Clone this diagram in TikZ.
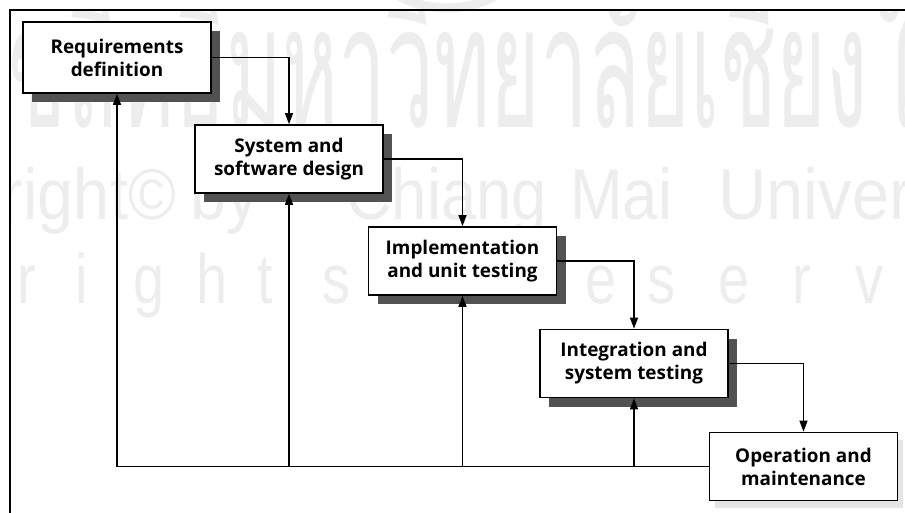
\documentclass[tikz,border=0pt]{standalone}
\usepackage{fontspec}
\setmainfont{Open Sans}
\newfontfamily\thaiwm[Script=Thai]{Loma}
\newfontfamily\wmfont{Liberation Sans}
\usetikzlibrary{arrows.meta,shadows}
\begin{document}
\begin{tikzpicture}[x=1pt,y=-1pt,
  phase/.style={draw, line width=1.7pt, fill=white, minimum width=188pt,
    minimum height=68pt, inner sep=0pt, align=center,
    font=\fontsize{18.9}{23}\selectfont\bfseries},
  darkshadow/.style={drop shadow={shadow xshift=9pt, shadow yshift=-9pt,
    fill=black!68, opacity=1}},
  lightshadow/.style={drop shadow={shadow xshift=5pt, shadow yshift=-7pt,
    fill=black!10, opacity=1}},
  flow/.style={line width=1.4pt, -{Triangle[length=11pt,width=8pt]}},
  wm/.style={text=black!7, inner sep=0pt},
  frameline/.style={line width=2.4pt},
]
\useasboundingbox (0,0) rectangle (905,513);
% watermark
\begin{scope}
  \clip (0,0) rectangle (905,513);
  \draw[black!7, line width=9pt] (447,-95) circle[radius=103];
\end{scope}
\begin{scope}
  \clip (10,10) rectangle (905,513);
  \node[wm, anchor=base east, xscale=0.5, font=\thaiwm\fontsize{170}{170}\selectfont] (wt1) at (868,128) {ลิขสิทธิ์มหาวิทยาลัยเชียง};
  \node[wm, anchor=base west, xscale=0.5, font=\thaiwm\fontsize{170}{170}\selectfont] (wt2) at (876,128) {ใหม่};
  \node[wm, anchor=base east, xscale=0.9, font=\wmfont\fontsize{72}{72}\selectfont] (wc1) at (176,220) {Copyright©};
  \node[wm, anchor=base west, xscale=0.9, font=\wmfont\fontsize{72}{72}\selectfont] (wc2) at (190,220) {by};
  \node[wm, anchor=base west, xscale=0.88, font=\wmfont\fontsize{72}{72}\selectfont] (wc3) at (346,220) {Chiang};
  \node[wm, anchor=base west, xscale=0.88, font=\wmfont\fontsize{72}{72}\selectfont] (wc4) at (570,220) {Mai};
  \node[wm, anchor=base west, xscale=0.93, font=\wmfont\fontsize{72}{72}\selectfont] (wc5) at (718,220) {University};
  \foreach \ch/\px [count=\i] in {r/17,i/75,g/133,h/196,t/257,s/322,r/455,e/585,s/647,e/718,r/792,v/855}
    \node[wm, anchor=base west, xscale=0.8, font=\wmfont\fontsize{70}{70}\selectfont] (wr\i) at (\px,303) {\ch};
\end{scope}
% frame
\draw[frameline] (10,513) -- (10,10) -- (905,10);
% phases
\node[phase, darkshadow, minimum height=71pt] (b1) at (117,57.5) {Requirements\\definition};
\node[phase, darkshadow] (b2) at (289,159) {System and\\software design};
\node[phase, darkshadow] (b3) at (462.5,261) {Implementation\\and unit testing};
\node[phase, darkshadow] (b4) at (634,363.5) {Integration and\\system testing};
\node[phase, lightshadow] (b5) at (803.5,466.5) {Operation and\\maintenance};
% forward flow
\draw[flow] (b1.east) -| (b2.north);
\draw[flow] (b2.east) -| (b3.north);
\draw[flow] (b3.east) -| (b4.north);
\draw[flow] (b4.east) -| (b5.north);
% feedback
\draw[flow] (b5.west) -| (b1.south);
\draw[flow] (b5.west -| b2.south) -- (b2.south);
\draw[flow] (b5.west -| b3.south) -- (b3.south);
\draw[flow] (b5.west -| b4.south) -- (b4.south);
\end{tikzpicture}
\end{document}
